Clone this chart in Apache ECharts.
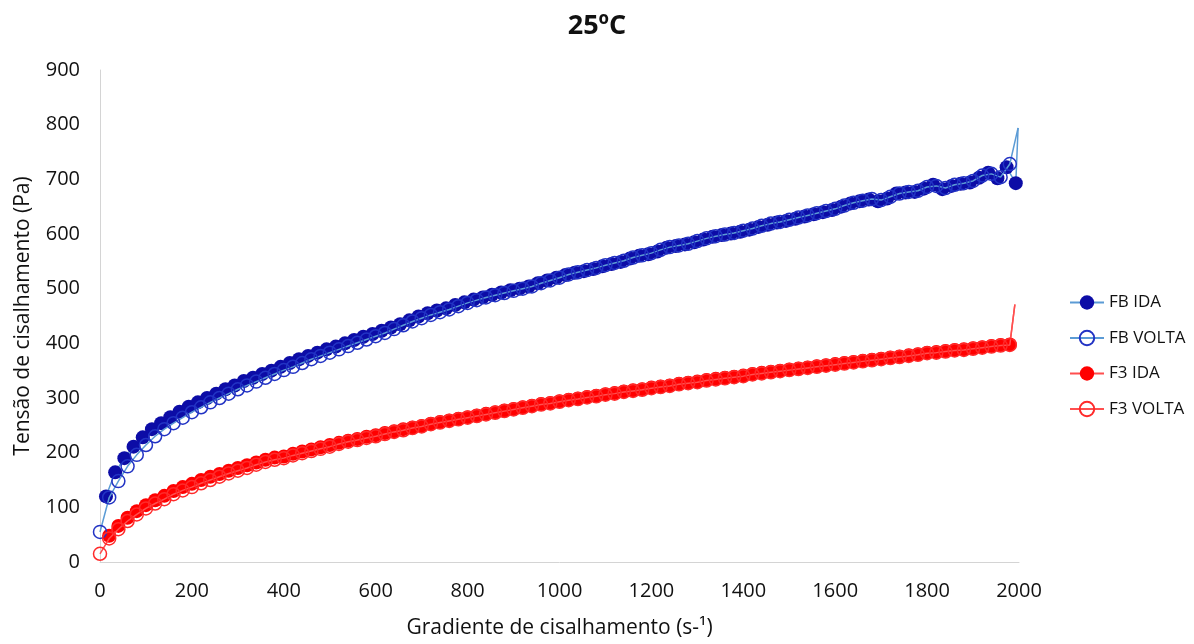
<!DOCTYPE html>
<html>
<head>
<meta charset="utf-8">
<script src="https://cdn.jsdelivr.net/npm/echarts@6/dist/echarts.min.js"></script>
<style>html,body{margin:0;padding:0;background:#fff}#c{width:1194px;height:644px}</style>
</head>
<body>
<div id="c"></div>
<script>
// Shear rate (s-1) for each run
var rateIda = [13,33,53,73,93,113,133,153,173,193,213,233,253,273,293,313,333,353,373,393,413,433,453,473,493,513,533,553,573,593,613,633,653,673,693,713,733,753,773,793,813,833,853,873,893,913,933,953,973,993,1013,1033,1053,1073,1093,1113,1133,1153,1173,1193,1213,1233,1253,1273,1293,1313,1333,1353,1373,1393,1413,1433,1453,1473,1493,1513,1533,1553,1573,1593,1613,1633,1653,1673,1693,1713,1733,1753,1773,1793,1813,1833,1853,1873,1893,1913,1933,1953,1973,1993];
var rateVolta = [0,20,40,60,80,100,120,140,160,180,200,220,240,260,280,300,320,340,360,380,400,420,440,460,480,500,520,540,560,580,600,620,640,660,680,700,720,740,760,780,800,820,840,860,880,900,920,940,960,980,1000,1020,1040,1060,1080,1100,1120,1140,1160,1180,1200,1220,1240,1260,1280,1300,1320,1340,1360,1380,1400,1420,1440,1460,1480,1500,1520,1540,1560,1580,1600,1620,1640,1660,1680,1700,1720,1740,1760,1780,1800,1820,1840,1860,1880,1900,1920,1940,1960,1980];
var rateF3Ida = [20,40,60,80,100,120,140,160,180,200,220,240,260,280,300,320,340,360,380,400,420,440,460,480,500,520,540,560,580,600,620,640,660,680,700,720,740,760,780,800,820,840,860,880,900,920,940,960,980,1000,1020,1040,1060,1080,1100,1120,1140,1160,1180,1200,1220,1240,1260,1280,1300,1320,1340,1360,1380,1400,1420,1440,1460,1480,1500,1520,1540,1560,1580,1600,1620,1640,1660,1680,1700,1720,1740,1760,1780,1800,1820,1840,1860,1880,1900,1920,1940,1960,1980];

// Shear stress (Pa)
var fbIda = [120,164,190,211,228,243,254,265,275,284,
  292,300,308,316,323,331,337,344,350,357,
  364,371,377,383,389,394,400,406,412,417,
  423,429,435,442,449,455,460,464,470,475,
  480,484,489,493,497,500,504,510,515,520,
  525,529,532,536,541,545,549,555,560,563,
  568,575,578,581,585,590,595,598,601,604,
  608,613,617,621,624,628,632,636,640,644,
  650,656,660,663,660,665,674,676,677,683,
  690,682,688,692,694,703,712,702,722,693];
var fbVolta = [55,118,148,175,196,214,230,243,254,264,
  274,283,292,300,308,316,323,330,337,344,
  351,357,364,371,377,383,389,395,401,407,
  413,419,426,433,440,446,452,457,462,468,
  474,479,484,488,492,496,500,504,510,515,
  520,526,530,534,538,543,547,551,557,561,
  565,571,576,579,582,587,592,596,599,602,
  606,610,615,619,622,626,630,634,638,642,
  646,652,657,661,664,662,668,674,677,679,
  686,688,684,690,693,697,707,710,704,728];
var f3Ida = [48,66,81,93,104,113,121,130,137,143,
  150,156,161,167,172,177,182,187,191,193,
  198,202,206,210,214,218,222,225,229,232,
  236,239,243,246,249,253,256,259,262,265,
  268,271,274,277,280,283,286,289,291,294,
  297,299,302,304,307,309,312,314,316,319,
  321,323,326,328,330,333,335,337,339,341,
  344,346,348,350,352,354,356,358,360,362,
  364,366,368,370,372,374,376,378,380,383,
  384,386,388,389,391,393,395,397,398];
var f3Volta = [15,43,60,75,87,98,107,115,124,131,
  137,144,150,156,162,167,172,178,183,187,
  190,195,199,203,207,211,216,220,223,227,
  230,234,238,241,245,248,252,255,258,261,
  264,267,270,273,276,279,282,285,288,290,
  293,296,298,301,303,306,308,311,313,315,
  318,320,322,325,327,329,332,334,336,338,
  340,343,345,347,349,351,353,355,357,359,
  361,363,365,367,369,371,373,375,377,379,
  382,383,385,387,388,390,392,394,396,397];

// Unmarked end spikes
var fbSpike = [1998, 794];
var f3Spike = [1991, 471];

var xTicks = [0,200,400,600,800,1000,1200,1400,1600,1800,2000];
var yTicks = [0,100,200,300,400,500,600,700,800,900];

function pairs(xs, ys, spike) {
  var d = ys.map(function (v, i) { return [xs[i], v]; });
  d.push({ value: spike, symbol: 'none' });
  return d;
}

var FONT = '"Open Sans", "Noto Sans", sans-serif';
var TXT = '#111';
var chart = echarts.init(document.getElementById('c'));
chart.setOption({
  animation: false,
  backgroundColor: '#fff',
  title: {
    text: '25ºC', left: 'center', top: 8,
    textStyle: { fontFamily: FONT, fontSize: 27, fontWeight: 'bold', color: TXT }
  },
  legend: {
    orient: 'vertical', left: 1064, top: 289,
    itemWidth: 34, itemHeight: 18, itemGap: 18.5,
    textStyle: { fontFamily: FONT, fontSize: 17, color: TXT },
    data: ['FB IDA', 'FB VOLTA', 'F3 IDA', 'F3 VOLTA']
  },
  grid: { left: 100, right: 175, top: 70, bottom: 81 },
  xAxis: {
    type: 'value', min: xTicks[0], max: xTicks[xTicks.length - 1], interval: 200,
    name: 'Gradiente de cisalhamento (s-¹)', nameLocation: 'middle', nameGap: 56,
    nameTextStyle: { fontFamily: FONT, fontSize: 21, color: TXT },
    axisLine: { show: true, lineStyle: { color: '#d4d4d4', width: 1 } },
    axisTick: { show: false },
    splitLine: { show: false },
    axisLabel: { fontFamily: FONT, fontSize: 20, color: TXT, margin: 19,
      formatter: function (v) { return String(v); } }
  },
  yAxis: {
    type: 'value', min: yTicks[0], max: yTicks[yTicks.length - 1], interval: 100,
    name: 'Tensão de cisalhamento (Pa)', nameLocation: 'middle', nameGap: 66,
    nameTextStyle: { fontFamily: FONT, fontSize: 21, color: TXT },
    axisLine: { show: true, lineStyle: { color: '#d4d4d4', width: 1 } },
    axisTick: { show: false },
    splitLine: { show: false },
    axisLabel: { fontFamily: FONT, fontSize: 20, color: TXT, margin: 20,
      formatter: function (v) { return String(v); } }
  },
  series: [
    {
      name: 'FB IDA', type: 'line', z: 2,
      data: pairs(rateIda, fbIda, fbSpike),
      symbol: 'circle', symbolSize: 14, showAllSymbol: true,
      itemStyle: { color: '#0c0ca6' },
      lineStyle: { color: '#5b9bd5', width: 1.5 }
    },
    {
      name: 'FB VOLTA', type: 'line', z: 3,
      data: pairs(rateVolta, fbVolta, fbSpike),
      symbol: 'circle', symbolSize: 13, showAllSymbol: true,
      itemStyle: { color: 'rgba(255,255,255,0)', borderColor: '#2233c4', borderWidth: 1.5 },
      lineStyle: { color: '#5b9bd5', width: 1.5 }
    },
    {
      name: 'F3 IDA', type: 'line', z: 2,
      data: pairs(rateF3Ida, f3Ida, f3Spike),
      symbol: 'circle', symbolSize: 14, showAllSymbol: true,
      itemStyle: { color: '#ff0000' },
      lineStyle: { color: '#ff4f4f', width: 1.5 }
    },
    {
      name: 'F3 VOLTA', type: 'line', z: 3,
      data: pairs(rateVolta, f3Volta, f3Spike),
      symbol: 'circle', symbolSize: 13, showAllSymbol: true,
      itemStyle: { color: 'rgba(255,255,255,0)', borderColor: '#ff2a2a', borderWidth: 1.5 },
      lineStyle: { color: '#ff4f4f', width: 1.5 }
    }
  ]
});
</script>
</body>
</html>
